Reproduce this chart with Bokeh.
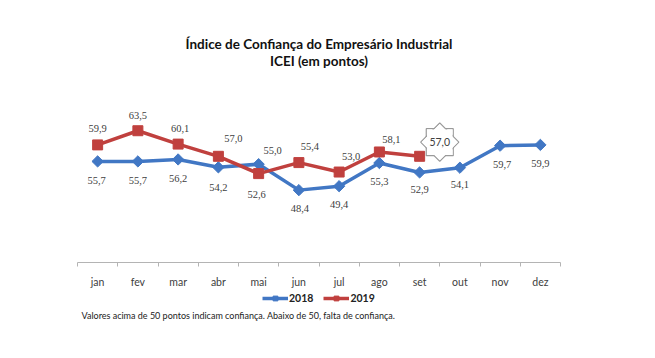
from bokeh.plotting import figure
from bokeh.layouts import column
from bokeh.models import (ColumnDataSource, FixedTicker, Legend, LegendItem,
                          LabelSet, Label)
from bokeh.embed import file_html
from bokeh.resources import INLINE
import math

# ---- data ----
months = ["jan", "fev", "mar", "abr", "mai", "jun", "jul", "ago", "set", "out", "nov", "dez"]
icei_2018 = [55.7, 55.7, 56.2, 54.2, 55.0, 48.4, 49.4, 55.3, 52.9, 54.1, 59.7, 59.9]
icei_2019 = [59.9, 63.5, 60.1, 57.0, 52.6, 55.4, 53.0, 58.1, 57.0]
series_names = ["2018", "2019"]
title_line1 = "Índice de Confiança do Empresário Industrial"
title_line2 = "ICEI (em pontos)"
note_text = "Valores acima de 50 pontos indicam confiança. Abaixo de 50, falta de confiança."

# ---- label placement (screen px; y up) ----
off18_x = [-1, 0, 0, 0, 14, 1, 0, 0, 0, 0, 2, 0]
off18_y = [-19, -19, -19, -20, 14, -18, -18, -19, -17, -17, -19, -19]
off19_x = [0, 0, 2, 15, -2, 11, 12, 12, None]
off19_y = [16, 15, 16, 18, -21, 16, 16, 12, None]

BLUE = "#4177c4"
RED = "#c0403e"
LABEL_COLOR = "#404040"
FONT = "Lato"
W = 638
FRAME_L, FRAME_R = 77, 78
FW = W - FRAME_L - FRAME_R


def fmt(v):
    return f"{v:.1f}".replace(".", ",")


def blank(height):
    f = figure(width=W, height=height, x_range=(0, FW), y_range=(0, height),
               output_backend="svg", toolbar_location=None,
               x_axis_location=None, y_axis_location=None,
               min_border_left=FRAME_L, min_border_right=FRAME_R,
               min_border_top=0, min_border_bottom=0)
    f.outline_line_color = None
    f.xgrid.visible = False
    f.ygrid.visible = False
    return f


x18 = list(range(len(icei_2018)))
x19 = list(range(len(icei_2019)))

src18 = ColumnDataSource(dict(x=x18, y=icei_2018, t=[fmt(v) for v in icei_2018],
                              dx=off18_x, dy=off18_y))
n19 = len(icei_2019) - 1  # last 2019 point is labelled with a callout
src19 = ColumnDataSource(dict(x=x19, y=icei_2019))
src19_lab = ColumnDataSource(dict(x=x19[:n19], y=icei_2019[:n19],
                                  t=[fmt(v) for v in icei_2019[:n19]],
                                  dx=off19_x[:n19], dy=off19_y[:n19]))

# ---------- title strip ----------
TH = 80
p0 = blank(TH)
for txt, yy in ((title_line1, 36.5), (title_line2, 19.5)):
    p0.add_layout(Label(x=FW / 2, y=yy, text=txt, text_align="center", text_baseline="middle",
                        text_font=FONT, text_font_size="13.5px", text_font_style="bold",
                        text_color="#111111"))

# ---------- main chart ----------
p = figure(width=W, height=210, x_range=(-0.5, len(months) - 0.5), y_range=(30, 75),
           output_backend="svg", toolbar_location=None, y_axis_location=None,
           min_border_left=FRAME_L, min_border_right=FRAME_R,
           min_border_top=5, min_border_bottom=22)
p.outline_line_color = None
p.xgrid.visible = False
p.ygrid.visible = False

ax = p.xaxis[0]
ax.ticker = FixedTicker(ticks=list(range(len(months))),
                        minor_ticks=[i - 0.5 for i in range(len(months) + 1)])
ax.major_label_overrides = {i: m for i, m in enumerate(months)}
ax.axis_line_color = "#b4b4b4"
ax.axis_line_width = 1
ax.major_tick_line_color = None
ax.major_tick_out = 0
ax.major_tick_in = 0
ax.minor_tick_line_color = "#b4b4b4"
ax.minor_tick_out = 4
ax.minor_tick_in = 0
ax.major_label_standoff = 9
ax.major_label_text_font = FONT
ax.major_label_text_font_size = "10.5px"
ax.major_label_text_color = LABEL_COLOR

p.line("x", "y", source=src18, line_color=BLUE, line_width=3.5)
p.scatter("x", "y", source=src18, marker="square", angle=math.pi / 4, size=8,
          fill_color=BLUE, line_color=BLUE)
p.line("x", "y", source=src19, line_color=RED, line_width=3.5)
p.scatter("x", "y", source=src19, marker="square", size=10,
          fill_color=RED, line_color=RED)

for s in (src18, src19_lab):
    p.add_layout(LabelSet(x="x", y="y", text="t", source=s, x_offset="dx", y_offset="dy",
                          text_align="center", text_baseline="middle",
                          text_font=FONT, text_font_size="10.5px",
                          text_color=LABEL_COLOR))

# callout star for the last 2019 value
STAR_DX, STAR_DY = 0.5, 3.6
sx = x19[-1] + STAR_DX
sy = icei_2019[-1] + STAR_DY
p.scatter([sx, sx], [sy, sy], marker="square", size=27, angle=[0, math.pi / 4],
          fill_color="white", line_color="#9a9a9a", line_width=1.2)
p.scatter([sx, sx], [sy, sy], marker="square", size=25.5, angle=[0, math.pi / 4],
          fill_color="white", line_color=None)
p.add_layout(Label(x=sx, y=sy, text=fmt(icei_2019[-1]), text_align="center",
                   text_baseline="middle", text_font=FONT, text_font_size="10.5px",
                   text_color=LABEL_COLOR))

# ---------- legend + note strip ----------
BH = 45
p2 = blank(BH)
k18 = [p2.line("x", "y", source=src18, line_color=BLUE, line_width=3.5, visible=False),
       p2.scatter("x", "y", source=src18, marker="square", angle=math.pi / 4, size=8,
                  fill_color=BLUE, line_color=BLUE, visible=False)]
k19 = [p2.line("x", "y", source=src19, line_color=RED, line_width=3.5, visible=False),
       p2.scatter("x", "y", source=src19, marker="square", size=10,
                  fill_color=RED, line_color=RED, visible=False)]
legend = Legend(items=[LegendItem(label=series_names[0], renderers=k18),
                       LegendItem(label=series_names[1], renderers=k19)],
                orientation="horizontal", location=(185, 31), margin=0, padding=0,
                spacing=10, glyph_width=26, glyph_height=12, label_height=12,
                label_standoff=1, border_line_color=None, background_fill_alpha=0,
                inactive_fill_alpha=0,
                label_text_font=FONT, label_text_font_size="10.5px",
                label_text_font_style="bold", label_text_color="#222222")
p2.add_layout(legend, "center")
p2.add_layout(Label(x=4, y=20, text=note_text, text_align="left", text_baseline="middle",
                    text_font=FONT, text_font_size="9px", text_color="#222222"))

layout = column(p0, p, p2, spacing=0)
open("out.html", "w").write(file_html(layout, INLINE))
